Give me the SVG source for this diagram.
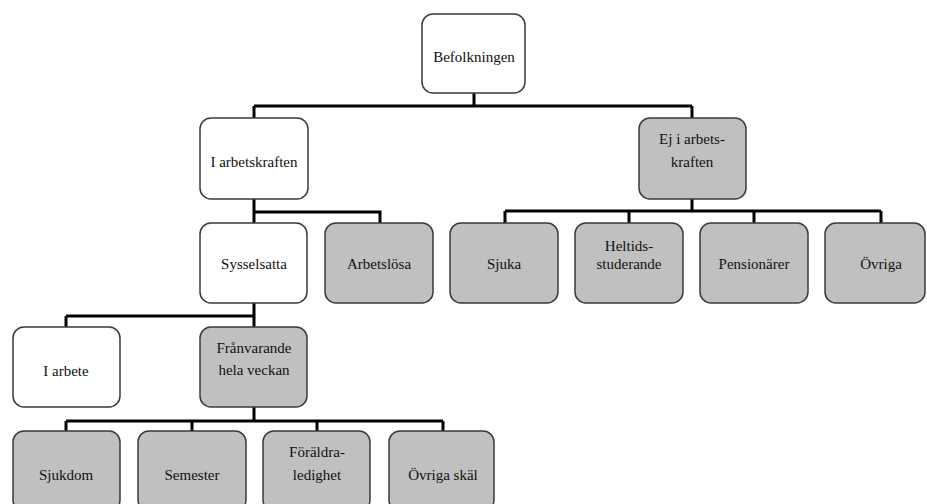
<svg xmlns="http://www.w3.org/2000/svg" width="927" height="504" viewBox="0 0 927 504">
<style>
.box{stroke:#3a3a3a;stroke-width:1.5;}
.w{fill:#ffffff;}
.g{fill:#c0c0c0;}
.t{font-family:'Liberation Serif','Times New Roman','DejaVu Serif',serif;font-size:15px;fill:#111;text-anchor:middle;}
.conn{fill:none;stroke:#000;stroke-width:3;}
</style>
<rect width="927" height="504" fill="#ffffff"/>
<g id="connectors" class="conn">
<path d="M474,93 V106 M254,106 H692 M254,106 V118 M692,106 V118"/>
<path d="M254,199 V223 M254,212 H380 V223"/>
<path d="M692,199 V211 M505,211 H881 M505,211 V223 M629,211 V223 M754,211 V223 M881,211 V223"/>
<path d="M254,303 V327 M66,316 H254 M66,316 V327"/>
<path d="M254,407 V421 M66,421 H443 M66,421 V431 M192,421 V431 M317,421 V431 M443,421 V431"/>
</g>
<g class="t">
<g id="befolkningen"><rect class="box w" x="422" y="14" width="103" height="79" rx="11"/><text x="474" y="62">Befolkningen</text></g>
<g id="i-arbetskraften"><rect class="box w" x="200" y="118" width="108" height="81" rx="11"/><text x="254" y="167">I arbetskraften</text></g>
<g id="ej-i-arbetskraften"><rect class="box g" x="639" y="118" width="107" height="81" rx="11"/><text x="692" y="144">Ej i arbets-</text><text x="692" y="167">kraften</text></g>
<g id="sysselsatta"><rect class="box w" x="200" y="223" width="107" height="80" rx="11"/><text x="254" y="269">Sysselsatta</text></g>
<g id="arbetslosa"><rect class="box g" x="325" y="223" width="108" height="80" rx="11"/><text x="379" y="269">Arbetslösa</text></g>
<g id="sjuka"><rect class="box g" x="450" y="223" width="108" height="80" rx="11"/><text x="504" y="269">Sjuka</text></g>
<g id="heltidsstuderande"><rect class="box g" x="575" y="223" width="108" height="80" rx="11"/><text x="629" y="251">Heltids-</text><text x="629" y="269">studerande</text></g>
<g id="pensionarer"><rect class="box g" x="700" y="223" width="108" height="80" rx="11"/><text x="754" y="269">Pensionärer</text></g>
<g id="ovriga"><rect class="box g" x="825" y="223" width="100" height="80" rx="11"/><text x="881" y="269">Övriga</text></g>
<g id="i-arbete"><rect class="box w" x="13" y="327" width="107" height="80" rx="11"/><text x="66" y="376">I arbete</text></g>
<g id="franvarande"><rect class="box g" x="200" y="327" width="107" height="80" rx="11"/><text x="254" y="353">Frånvarande</text><text x="254" y="375">hela veckan</text></g>
<g id="sjukdom"><rect class="box g" x="13" y="431" width="107" height="80" rx="11"/><text x="66" y="480">Sjukdom</text></g>
<g id="semester"><rect class="box g" x="138" y="431" width="108" height="80" rx="11"/><text x="192" y="480">Semester</text></g>
<g id="foraldraledighet"><rect class="box g" x="263" y="431" width="107" height="80" rx="11"/><text x="317" y="457">Föräldra-</text><text x="317" y="480">ledighet</text></g>
<g id="ovriga-skal"><rect class="box g" x="389" y="431" width="105" height="80" rx="11"/><text x="443" y="480">Övriga skäl</text></g>
</g>
</svg>
